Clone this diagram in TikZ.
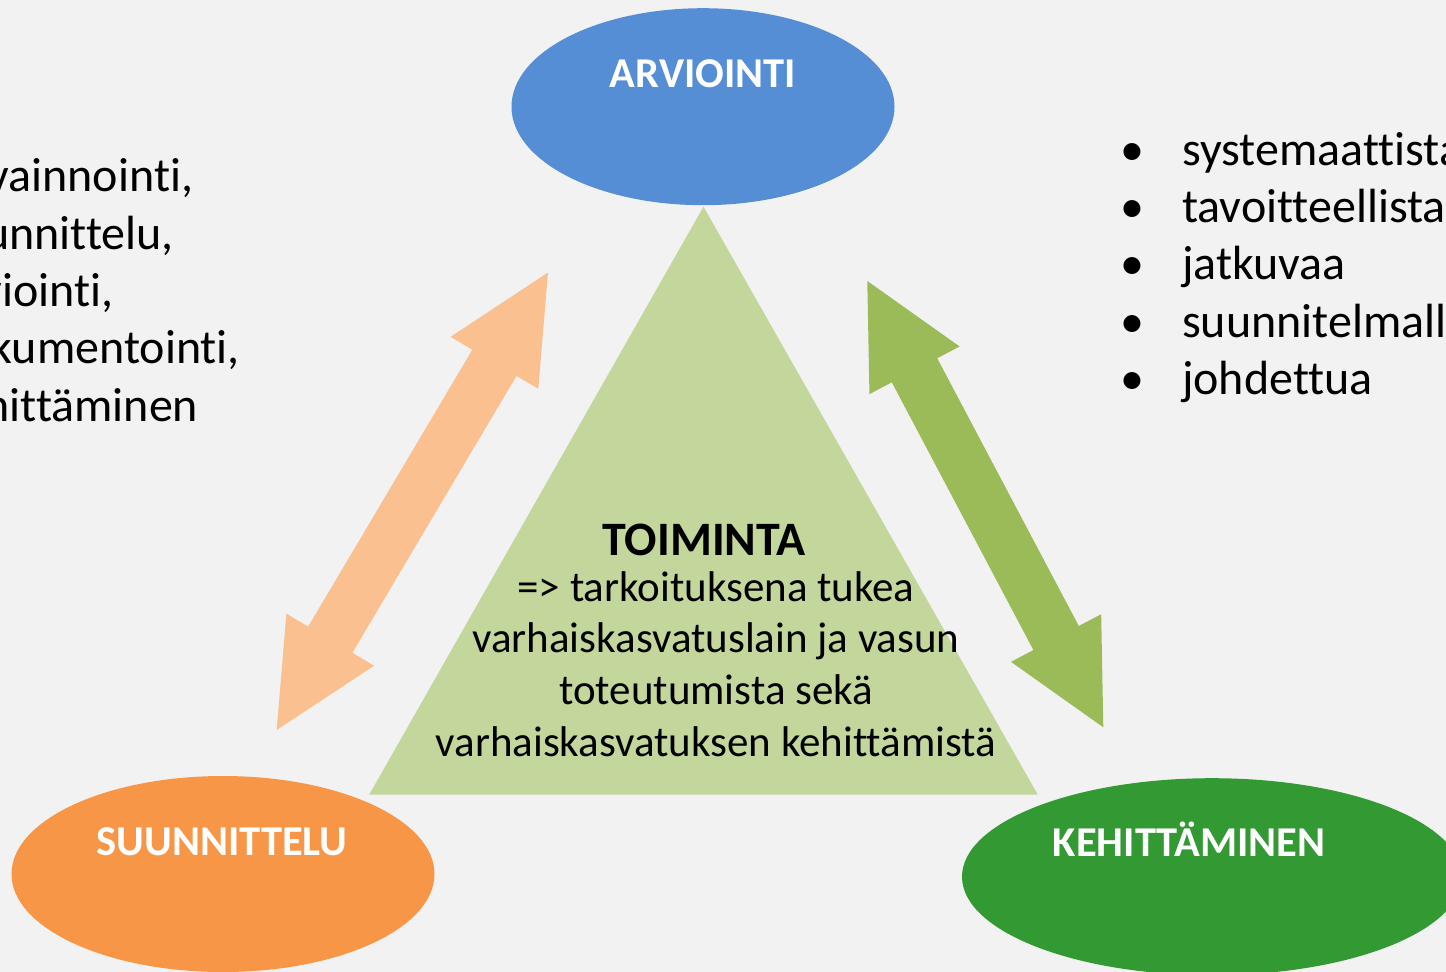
\documentclass[tikz,border=0pt]{standalone}
\usepackage{fontspec}
\setmainfont{Carlito}[Ligatures={TeX,NoCommon}]
\usetikzlibrary{shapes.geometric,calc,positioning}

\definecolor{bgGray}{HTML}{F2F2F2}
\definecolor{arvBlue}{HTML}{558ED5}
\definecolor{suunOrange}{HTML}{F79646}
\definecolor{kehGreen}{HTML}{339933}
\definecolor{toimGreen}{HTML}{C3D69B}
\definecolor{arrOrange}{HTML}{FAC090}
\definecolor{arrGreen}{HTML}{9BBB59}

% block double arrow: colour, first tip, second tip, head length
\newcommand{\dblarrow}[4]{%
	\coordinate (hA) at ($(#2)!#4!(#3)$);
	\coordinate (hB) at ($(#3)!#4!(#2)$);
	\fill[#1] (#2) -- ($(hA)!51pt!90:(#2)$) -- ($(hA)!25.7pt!90:(#2)$)
		-- ($(hB)!25.7pt!-90:(#3)$) -- ($(hB)!51pt!-90:(#3)$) -- (#3)
		-- ($(hB)!51pt!90:(#3)$) -- ($(hB)!25.7pt!90:(#3)$)
		-- ($(hA)!25.7pt!-90:(#2)$) -- ($(hA)!51pt!-90:(#2)$) -- cycle;}

\tikzset{
	phase/.style={ellipse, inner sep=0pt, draw=none},
	phaselabel/.style={text=white, inner sep=0pt, anchor=base, font=\fontsize{42.5}{51}\selectfont\bfseries},
	bodytext/.style={inner sep=0pt, font=\fontsize{43}{51.7}\selectfont},
	listtext/.style={inner sep=0pt, anchor=base west, font=\fontsize{48}{57.4}\selectfont},
}

\begin{document}
\begin{tikzpicture}[x=1pt,y=-1pt]
	\useasboundingbox (0,0) rectangle (1446,972);
	\clip (0,0) rectangle (1446,972);
	\fill[bgGray] (0,0) rectangle (1446,972);

	% toiminta triangle
	\coordinate (apex) at (703.5,206.7);
	\coordinate (baseL) at (369.3,794.5);
	\coordinate (baseR) at (1037.7,794.5);
	\fill[toimGreen] (apex) -- (baseR) -- (baseL) -- cycle;

	% the three phases
	\node[phase, fill=arvBlue, minimum width=383pt, minimum height=197pt] (arviointi) at (703,106.7) {};
	\node[phase, fill=suunOrange, minimum width=423pt, minimum height=196pt] (suunnittelu) at (223,874) {};
	\node[phase, fill=kehGreen, minimum width=500pt, minimum height=197pt] (kehittaminen) at (1212,876.7) {};
	\node[phaselabel] (arvlabel) at (703,87) {ARVIOINTI};
	\node[phaselabel] (suunlabel) at (222,855) {SUUNNITTELU};
	\node[phaselabel] (kehlabel) at (1189,856.7) {KEHITTÄMINEN};

	% arrows between phases
	\coordinate (orangeTop) at (548,272.5);
	\coordinate (orangeBot) at (276.7,730);
	\coordinate (greenTop) at (867.3,281);
	\coordinate (greenBot) at (1103.3,727.3);
	\dblarrow{arrOrange}{orangeTop}{orangeBot}{105pt}
	\dblarrow{arrGreen}{greenTop}{greenBot}{101pt}

	% texts
	\node[bodytext, anchor=base, font=\fontsize{48}{56}\selectfont\bfseries] (toiminta) at (704,555) {TOIMINTA};
	\node[bodytext, anchor=base] (tarkoitus) at (716,601) {%
		\begin{tabular}[t]{@{}c@{}}
			=> tarkoituksena tukea\\
			varhaiskasvatuslain ja vasun\\
			toteutumista sekä\\
			varhaiskasvatuksen kehittämistä
		\end{tabular}};
	\node[listtext] (tehtavat) at (-60,191.7) {%
		\begin{tabular}[t]{@{}l@{}}
			havainnointi,\\
			suunnittelu,\\
			arviointi,\\
			dokumentointi,\\
			kehittäminen
		\end{tabular}};
	\node[listtext] (piirteet) at (1120,165) {%
		\begin{tabular}[t]{@{}l@{}l@{}}
			\makebox[62pt][l]{\textbullet} & systemaattista\\
			\makebox[62pt][l]{\textbullet} & tavoitteellista\\
			\makebox[62pt][l]{\textbullet} & jatkuvaa\\
			\makebox[62pt][l]{\textbullet} & suunnitelmallista\\
			\makebox[62pt][l]{\textbullet} & johdettua
		\end{tabular}};
\end{tikzpicture}
\end{document}
